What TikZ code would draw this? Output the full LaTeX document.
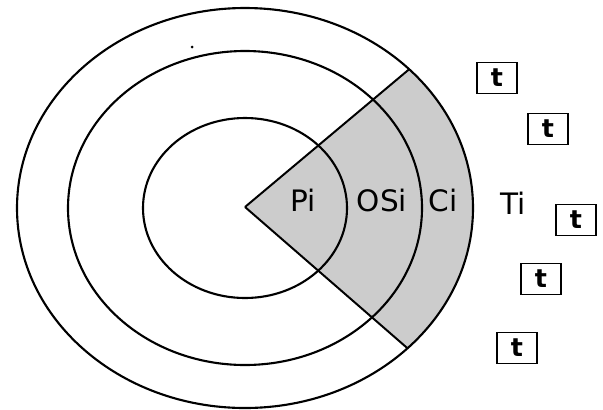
\documentclass[tikz,border=0pt]{standalone}
\usepackage{fontspec}
\setmainfont{DejaVu Sans}
\usetikzlibrary{positioning}
\tikzset{
    ring/.style={
        line width=1.5pt,
        black
    },
    % shaded sector
    zone/.style={
        fill=black!20
    },
    ray/.style={
        line width=1.4pt,
        black
    },
    lab/.style={
        anchor=base,
        inner sep=0pt,
        font=\fontsize{21}{21}\selectfont
    },
    tbox/.style={
        draw,
        line width=1.2pt,
        inner sep=0pt,
        minimum width=28pt,
        minimum height=22pt,
        font=\fontsize{18}{18}\selectfont\bfseries
    }
}

\begin{document}
\begin{tikzpicture}[x=0.025cm,y=-0.025cm]
    \useasboundingbox (0,0) rectangle (603,409);
    
    \path
    (245,207) coordinate (apex)
    (245,208) coordinate (ctr);
    
    % ===================== sector =====================
    \begin{scope}
        \clip (ctr) ellipse [x radius=228, y radius=200];
        \fill[zone] (apex) -- +(-40:400) -- +(41:400) -- cycle;
        \draw[ray] (apex) -- +(-40:400);
        \draw[ray] (apex) -- +(41:400);
    \end{scope}
    
    % ===================== rings =====================
    \draw[ring] (ctr) ellipse [x radius=102, y radius=90];
    \draw[ring] (ctr) ellipse [x radius=177, y radius=157];
    \draw[ring] (ctr) ellipse [x radius=228, y radius=200];
    \fill (192,47) circle (1.5);
    
    % labels
    \node[lab] (pi) at (303,211) {Pi};
    \node[lab] (osi) at (382,211) {OSi};
    \node[lab] (ci) at (443,211) {Ci};
    \node[lab] (ti) at (513,214) {Ti};
    
    % ===================== t boxes =====================
    \node[tbox] (t1) at (497,78) {t};
    \node[tbox] (t2) at (548,129) {t};
    \node[tbox] (t3) at (576,220) {t};
    \node[tbox] (t4) at (541,279) {t};
    \node[tbox] (t5) at (517,348) {t};
\end{tikzpicture}
\end{document}
